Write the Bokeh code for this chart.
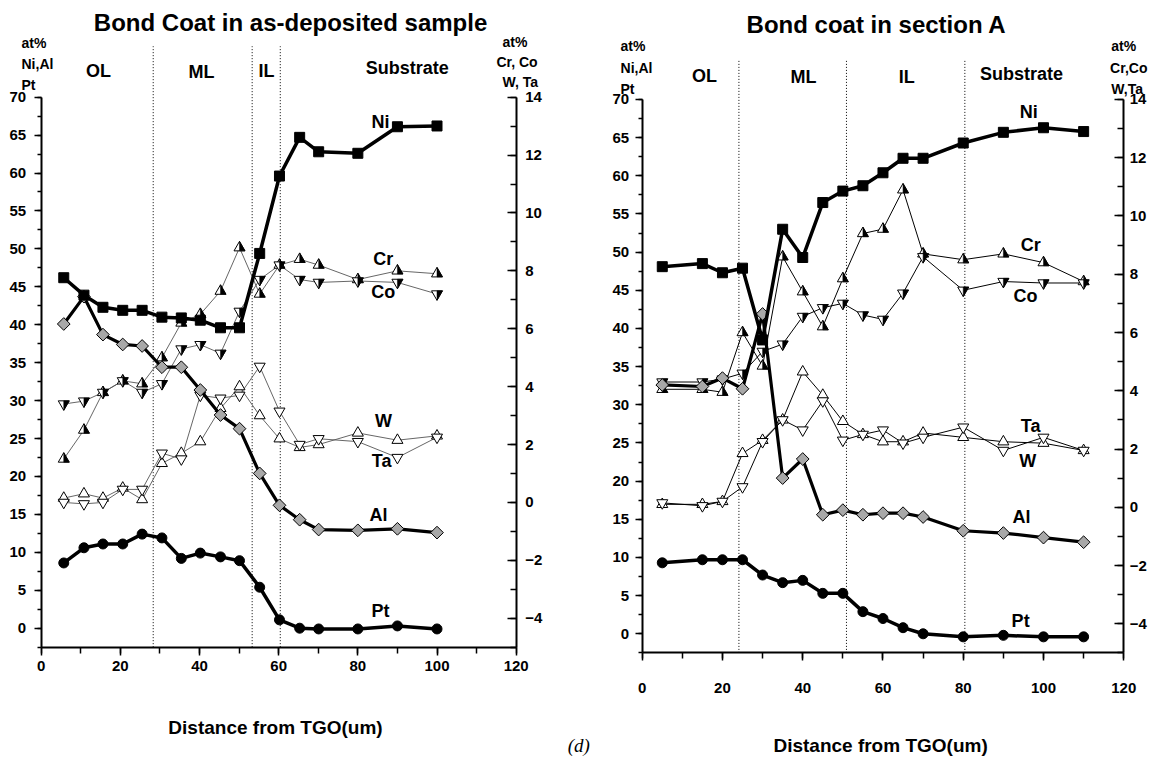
import math
from bokeh.plotting import figure
from bokeh.models import Range1d, LinearAxis, SingleIntervalTicker, Label
from bokeh.layouts import row
from bokeh.embed import file_html
from bokeh.resources import INLINE

FONT = "Liberation Sans"

# ---------------- data: as-deposited sample ----------------
dist_a = [5.7, 10.8, 15.6, 20.6, 25.5, 30.5, 35.4, 40.2, 45.3, 50.1, 55.2, 60.2, 65.3, 70.1, 80.0, 90.0, 100.0]
ni_a = [46.2, 43.9, 42.3, 41.9, 41.9, 41.0, 40.9, 40.6, 39.6, 39.6, 49.4, 59.6, 64.7, 62.8, 62.6, 66.1, 66.2]
al_a = [40.1, 43.7, 38.7, 37.4, 37.2, 34.4, 34.4, 31.4, 28.1, 26.3, 20.4, 16.2, 14.3, 13.0, 12.9, 13.1, 12.6]
pt_a = [8.6, 10.6, 11.1, 11.1, 12.4, 11.9, 9.2, 9.9, 9.4, 8.9, 5.4, 1.1, 0.0, -0.1, -0.1, 0.3, -0.1]
cr_a = [1.5, 2.5, 3.8, 4.2, 4.1, 5.0, 6.2, 6.5, 7.3, 8.8, 7.2, 8.2, 8.4, 8.2, 7.7, 8.0, 7.9]
co_a = [3.4, 3.5, 3.8, 4.2, 3.8, 4.1, 5.3, 5.45, 5.15, 6.6, 7.7, 8.2, 7.7, 7.6, 7.65, 7.6, 7.2]
w_a = [0.15, 0.3, 0.15, 0.5, 0.1, 1.35, 1.7, 2.1, 3.25, 4.0, 3.0, 2.2, 1.9, 2.0, 2.4, 2.15, 2.3]
ta_a = [0.0, -0.05, 0.0, 0.45, 0.45, 1.7, 1.5, 3.7, 3.6, 3.7, 4.7, 3.15, 2.0, 2.2, 2.1, 1.55, 2.25]
zones_a = [28.3, 53.3, 60.4]

# ---------------- data: section A ----------------
dist_b = [5, 15, 20, 25, 30, 35, 40, 45, 50, 55, 60, 65, 70, 80, 90, 100, 110]
ni_b = [48.1, 48.5, 47.3, 47.9, 38.5, 53.0, 49.3, 56.5, 58.0, 58.7, 60.4, 62.3, 62.3, 64.3, 65.7, 66.3, 65.8]
al_b = [32.6, 32.4, 33.5, 32.1, 41.9, 20.4, 22.9, 15.6, 16.2, 15.6, 15.8, 15.8, 15.3, 13.5, 13.2, 12.6, 12.0]
pt_b = [9.3, 9.7, 9.7, 9.7, 7.7, 6.7, 7.0, 5.3, 5.3, 2.9, 2.0, 0.8, 0.0, -0.4, -0.2, -0.4, -0.4]
cr_b = [4.05, 4.05, 3.95, 6.0, 4.85, 8.6, 7.4, 6.2, 7.85, 9.4, 9.55, 10.9, 8.7, 8.5, 8.7, 8.4, 7.75]
co_b = [4.3, 4.3, 4.4, 4.6, 5.35, 5.6, 6.55, 6.85, 7.0, 6.6, 6.45, 7.35, 8.6, 7.45, 7.75, 7.7, 7.7]
w_b = [0.1, 0.1, 0.2, 1.85, 2.3, 3.0, 4.65, 3.85, 2.95, 2.5, 2.25, 2.25, 2.55, 2.4, 2.25, 2.2, 1.95]
ta_b = [0.15, 0.05, 0.2, 0.7, 2.25, 3.0, 2.65, 3.65, 2.3, 2.5, 2.65, 2.2, 2.4, 2.75, 1.95, 2.4, 1.95]
zones_b = [24.1, 50.9, 80.4]

x_ticks_interval = 20
left_ticks_interval = 5
right_ticks_interval = 2

SQ3 = math.sqrt(3.0)


def tri_shapes(xs, ys, size, kx, ky, inverted):
    r = size / 2.0
    h = r * SQ3
    a = h / 3.0
    fx, fy, hx, hy = [], [], [], []
    for x, y in zip(xs, ys):
        dx = r / kx
        if inverted:
            yb = y + a / ky
            ya = y - (h - a) / ky
        else:
            yb = y - a / ky
            ya = y + (h - a) / ky
        fx.append([x - dx, x + dx, x])
        fy.append([yb, yb, ya])
        hx.append([x, x, x + dx])
        hy.append([ya, yb, yb])
    return fx, fy, hx, hy


def style_axis(ax, interval, bounds, t_in, t_out, m_in, m_out, standoff):
    ax.ticker = SingleIntervalTicker(interval=interval, num_minor_ticks=2)
    ax.bounds = bounds
    ax.axis_line_width = 2
    ax.axis_line_color = "black"
    ax.major_tick_line_width = 1.5
    ax.minor_tick_line_width = 1.5
    ax.major_tick_line_color = "black"
    ax.minor_tick_line_color = "black"
    ax.major_tick_in = t_in
    ax.major_tick_out = t_out
    ax.minor_tick_in = m_in
    ax.minor_tick_out = m_out
    ax.major_label_standoff = standoff
    ax.major_label_text_font = FONT
    ax.major_label_text_font_style = "bold"
    ax.major_label_text_font_size = "15px"
    ax.major_label_text_color = "black"


def build(cfg, d, ni, al, pt, cr, co, w, ta, zones, labels):
    W, H = cfg["width"], cfg["height"]
    x0, x1 = cfg["xr"]
    y0, y1 = cfg["yr"]
    r0, r1 = cfg["rr"]
    p = figure(width=W, height=H, x_range=Range1d(x0, x1), y_range=Range1d(y0, y1),
               output_backend="svg", toolbar_location=None, title=None,
               min_border_left=0, min_border_right=0, min_border_top=0, min_border_bottom=0)
    p.extra_y_ranges = {"r": Range1d(r0, r1)}
    p.xgrid.visible = False
    p.ygrid.visible = False
    p.outline_line_color = None
    p.background_fill_color = "white"
    p.border_fill_color = "white"

    kx = W / (x1 - x0)
    ky_r = H / (r1 - r0)

    xa = p.xaxis[0]
    xa.fixed_location = -2.5
    style_axis(xa, x_ticks_interval, (0, 120), 0, 8, 0, 6, cfg["xstand"])
    ya = p.yaxis[0]
    ya.fixed_location = 0
    style_axis(ya, left_ticks_interval, (-2.5, 70), 0, 7, 0, 4, cfg["ystand"])
    ra = LinearAxis(y_range_name="r", fixed_location=120)
    p.add_layout(ra, "right")
    style_axis(ra, right_ticks_interval, (-5, 14), 9, 0, 6, 0, cfg["rstand"])

    n = len(zones)
    p.segment(x0=zones, y0=[-2.5] * n, x1=zones, y1=[cfg["zone_top"]] * n,
              line_color="black", line_width=1, line_dash="1 2")

    thin = cfg["thin_color"]
    for vals in (cr, co, w, ta):
        p.line(d, vals, y_range_name="r", line_color=thin, line_width=cfg["thin_width"])

    tri = 11
    for vals, inv, half in ((w, False, False), (ta, True, False), (cr, False, True), (co, True, True)):
        fx, fy, hx, hy = tri_shapes(d, vals, tri, kx, ky_r, inv)
        p.patches(fx, fy, y_range_name="r", fill_color="white", line_color="black", line_width=1)
        if half:
            p.patches(hx, hy, y_range_name="r", fill_color="black", line_color="black", line_width=0.5)

    p.line(d, al, line_color="black", line_width=3.2, line_join="round")
    p.scatter(d, al, marker="square", angle=math.pi / 4, size=9, fill_color="#a8a8a8",
              line_color="black", line_width=1)
    p.line(d, ni, line_color="black", line_width=3.5, line_join="round")
    p.scatter(d, ni, marker="square", size=10, fill_color="black", line_color="black")
    p.line(d, pt, line_color="black", line_width=3.5, line_join="round")
    p.scatter(d, pt, marker="circle", size=10, fill_color="black", line_color="black")

    for (x, y, text, size, align, font, style) in labels:
        p.add_layout(Label(x=x, y=y, text=text, text_font=font, text_font_size=size,
                           text_font_style=style, text_align=align, text_baseline="middle",
                           text_color="black"))
    return p


def series_labels(pos):
    return [(x, y, t, "18px", "center", FONT, "bold") for (x, y, t) in pos]


cfg_a = dict(width=598, height=760, xr=(-10.283, 140.80), yr=(-17.44, 82.74), rr=(-8.915, 17.339),
             xstand=6, ystand=8, rstand=9, zone_top=76.7, thin_color="#555555", thin_width=0.9)
cfg_b = dict(width=557, height=760, xr=(-10.89, 127.91), yr=(-16.60, 82.97), rr=(-8.695, 17.399),
             xstand=22, ystand=6, rstand=6, zone_top=75.1, thin_color="black", thin_width=1)

labels_a = [
    (63.0, 79.84, "Bond Coat in as-deposited sample", "24px", "center", FONT, "bold"),
    (-4.98, 77.08, "at%", "14px", "left", FONT, "bold"),
    (-4.98, 74.31, "Ni,Al", "14px", "left", FONT, "bold"),
    (-4.98, 71.54, "Pt", "14px", "left", FONT, "bold"),
    (116.55, 77.21, "at%", "14px", "left", FONT, "bold"),
    (115.0, 74.57, "Cr, Co", "14px", "left", FONT, "bold"),
    (116.55, 71.94, "W, Ta", "14px", "left", FONT, "bold"),
    (14.5, 73.4, "OL", "18px", "center", FONT, "bold"),
    (40.5, 73.3, "ML", "18px", "center", FONT, "bold"),
    (56.9, 73.4, "IL", "18px", "center", FONT, "bold"),
    (92.5, 73.8, "Substrate", "18px", "center", FONT, "bold"),
    (59.2, -13.1, "Distance from TGO(um)", "19px", "center", FONT, "bold"),
    (135.8, -15.5, "(d)", "19px", "center", "Liberation Serif", "italic"),
] + series_labels([(85.7, 66.7, "Ni"), (86.4, 48.7, "Cr"), (86.4, 44.3, "Co"), (86.5, 27.3, "W"),
                   (86.0, 22.0, "Ta"), (85.2, 14.9, "Al"), (85.7, 2.3, "Pt")])

labels_b = [
    (58.4, 79.84, "Bond coat in section A", "24px", "center", FONT, "bold"),
    (-5.4, 77.07, "at%", "14px", "left", FONT, "bold"),
    (-5.4, 74.19, "Ni,Al", "14px", "left", FONT, "bold"),
    (-5.4, 71.31, "Pt", "14px", "left", FONT, "bold"),
    (116.9, 77.07, "at%", "14px", "left", FONT, "bold"),
    (116.6, 74.19, "Cr,Co", "14px", "left", FONT, "bold"),
    (116.9, 71.31, "W,Ta", "14px", "left", FONT, "bold"),
    (15.5, 73.1, "OL", "18px", "center", FONT, "bold"),
    (40.2, 73.0, "ML", "18px", "center", FONT, "bold"),
    (65.9, 73.0, "IL", "18px", "center", FONT, "bold"),
    (94.5, 73.4, "Substrate", "18px", "center", FONT, "bold"),
    (59.4, -14.6, "Distance from TGO(um)", "19px", "center", FONT, "bold"),
] + series_labels([(96.3, 68.4, "Ni"), (96.8, 50.9, "Cr"), (95.5, 44.3, "Co"), (96.8, 27.2, "Ta"),
                   (96.1, 22.7, "W"), (94.5, 15.3, "Al"), (94.3, 1.74, "Pt")])

p1 = build(cfg_a, dist_a, ni_a, al_a, pt_a, cr_a, co_a, w_a, ta_a, zones_a, labels_a)
p2 = build(cfg_b, dist_b, ni_b, al_b, pt_b, cr_b, co_b, w_b, ta_b, zones_b, labels_b)

layout = row(p1, p2)
open("out.html", "w").write(file_html(layout, INLINE))
